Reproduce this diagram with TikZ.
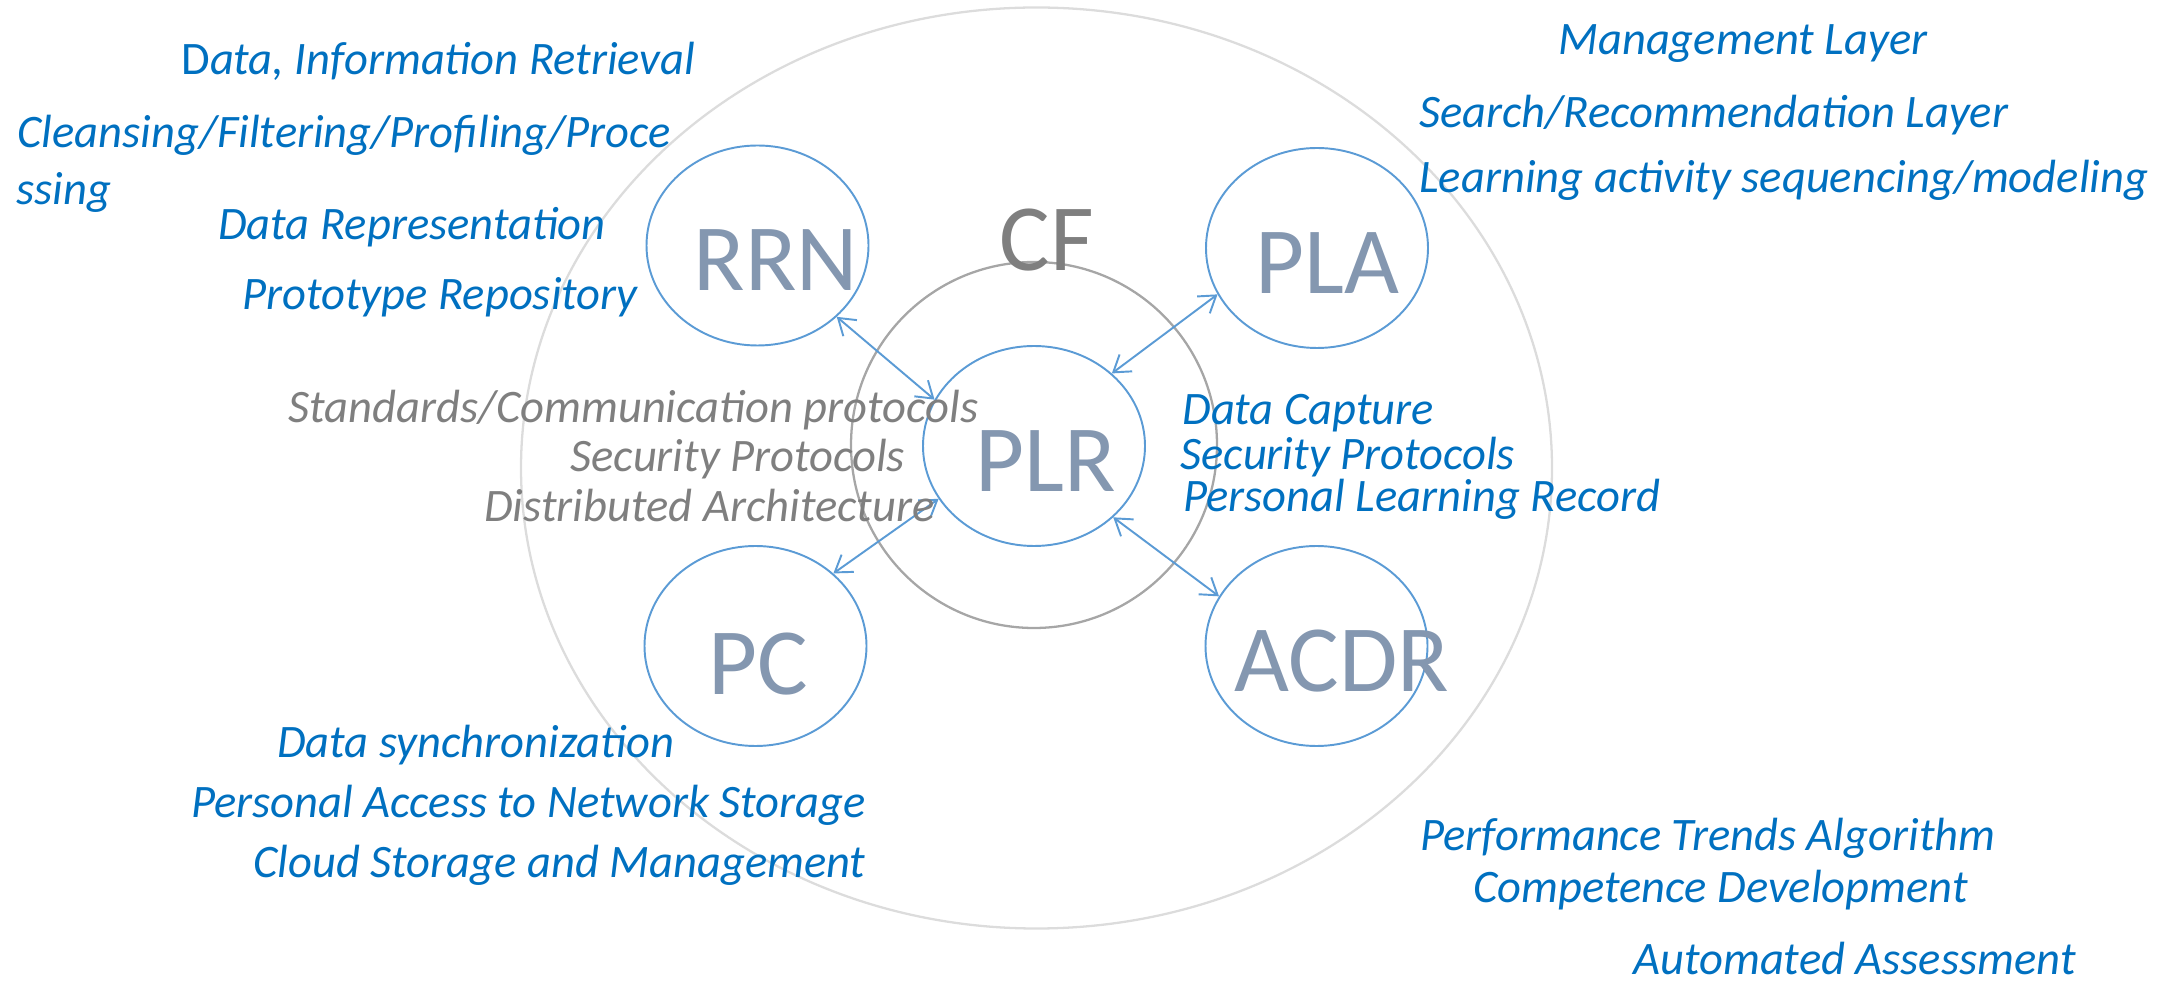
\documentclass[tikz,border=0pt]{standalone}
\usepackage{fontspec}
\setmainfont{Carlito}
\usepackage{tikz}
\usetikzlibrary{shapes.geometric, arrows.meta}
\definecolor{azul}{HTML}{0070C0}
\definecolor{gris}{HTML}{7F7F7F}
\definecolor{borde}{HTML}{5B9BD5}
\definecolor{etiq}{HTML}{8497B0}
\definecolor{grisclaro}{HTML}{DCDCDC}
\definecolor{grismedio}{HTML}{A6A6A6}
\newcommand{\T}[1]{\textit{#1}}

\begin{document}
\begin{tikzpicture}[
    modulo/.style={ellipse, draw=borde, line width=1.1pt, minimum width=4.44cm, minimum height=4.0cm, inner sep=0pt},
    sigla/.style={text=etiq, font=\fontsize{54}{54}\selectfont, inner sep=0pt, yshift=-0.3cm},
    flecha/.style={draw=borde, line width=1.1pt, {Straight Barb[length=9pt,width=12pt]}-{Straight Barb[length=9pt,width=12pt]}},
    texto/.style={text=azul, anchor=base west, inner sep=0pt, font=\fontsize{26.5}{29}\selectfont\itshape},
    textogris/.style={texto, text=gris}]
        \useasboundingbox (0,0) rectangle (43.58,19.68);
        % Elipse exterior
        \draw[grisclaro, line width=1.3pt] (20.73,10.32) ellipse [x radius=10.31cm, y radius=9.21cm];
        % Circulo CF
        \node[circle, draw=grismedio, line width=1.3pt, minimum size=7.32cm] (cf) at (20.68,10.78) {};
        \node[text=gris, font=\fontsize{54}{54}\selectfont, inner sep=0pt] (cftxt) at (20.94,14.88) {CF};
        % Modulos
        \node[modulo, label={[sigla, xshift=0.24cm]center:PLR}] (plr) at (20.68,10.76) {};
        \node[modulo, label={[sigla, xshift=0.37cm]center:RRN}] (rrn) at (15.15,14.77) {};
        \node[modulo, label={[sigla, xshift=0.2cm]center:PLA}] (pla) at (26.34,14.72) {};
        \node[modulo, label={[sigla, xshift=0.06cm, yshift=-0.07cm]center:PC}] (pc) at (15.11,6.76) {};
        \node[modulo, label={[sigla, xshift=0.5cm]center:ACDR}] (acdr) at (26.33,6.76) {};
        % Flechas
        \draw[flecha] (rrn.-42) -- (plr.155);
        \draw[flecha] (pla.205) -- (plr.43);
        \draw[flecha] (plr.-42) -- (acdr.153);
        \draw[flecha] (plr.209) -- (pc.43);
        % Textos RRN
        \node[texto] (r1) at (3.62,18.18) {{\upshape D}\T{ata, Information Retrieval}};
        \node[texto] (r2) at (0.34,16.72) {Cleansing/Filtering/Profiling/Proce};
        \node[texto] (r3) at (0.32,15.58) {ssing};
        \node[texto] (r4) at (4.36,14.88) {Data Representation};
        \node[texto] (r5) at (4.84,13.48) {Prototype Repository};
        % Textos PLA
        \node[texto] (a1) at (31.16,18.58) {Management Layer};
        \node[texto] (a2) at (28.38,17.12) {Search/Recommendation Layer};
        \node[texto] (a3) at (28.38,15.82) {Learning activity sequencing/modeling};
        % Textos CF
        \node[textogris] (c1) at (5.76,11.22) {Standards/Communication protocols};
        \node[textogris] (c2) at (11.40,10.24) {Security Protocols};
        \node[textogris] (c3) at (9.68,9.24) {Distributed Architecture};
        % Textos PLR
        \node[texto] (p1) at (23.64,11.18) {Data Capture};
        \node[texto] (p2) at (23.60,10.28) {Security Protocols};
        \node[texto] (p3) at (23.66,9.44) {Personal Learning Record};
        % Textos PC
        \node[texto] (s1) at (5.54,4.54) {Data synchronization};
        \node[texto] (s2) at (3.82,3.34) {Personal Access to Network Storage};
        \node[texto] (s3) at (5.06,2.14) {Cloud Storage and Management};
        % Textos ACDR
        \node[texto] (d1) at (28.40,2.68) {Performance Trends Algorithm};
        \node[texto] (d2) at (29.46,1.64) {Competence Development};
        \node[texto] (d3) at (32.66,0.2) {Automated Assessment};
    \end{tikzpicture}
\end{document}
